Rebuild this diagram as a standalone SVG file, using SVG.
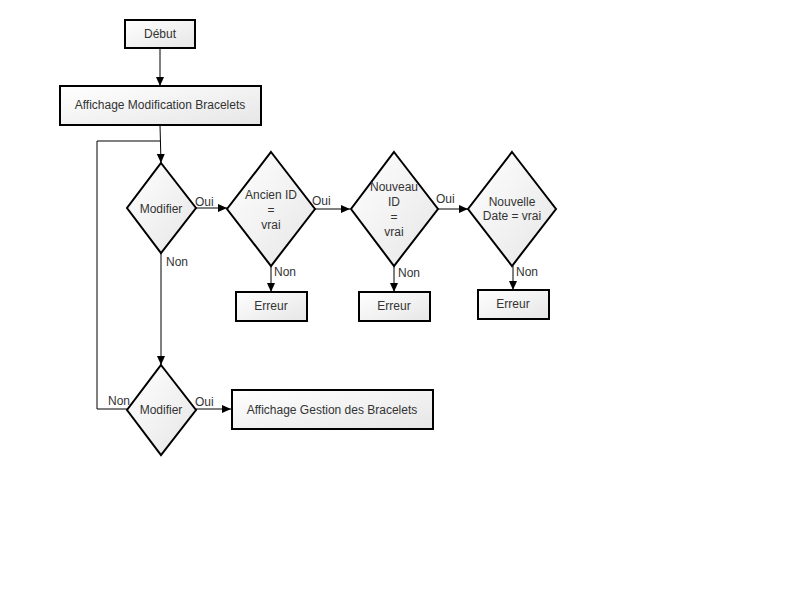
<svg xmlns="http://www.w3.org/2000/svg" width="800" height="600" viewBox="0 0 800 600">
<defs>
<linearGradient id="g" x1="0" y1="0" x2="1" y2="1">
<stop offset="0" stop-color="#ffffff"/>
<stop offset="1" stop-color="#e6e6e6"/>
</linearGradient>
<marker id="arr" markerWidth="10" markerHeight="10" refX="9" refY="4" orient="auto" markerUnits="userSpaceOnUse">
<path d="M0,0 L9,4 L0,8 Z" fill="#000"/>
</marker>
<style>
.n{fill:url(#g);stroke:#000;stroke-width:2}
.t{font-family:"Liberation Sans",Arial,sans-serif;font-size:12px;fill:#333;text-anchor:middle;dominant-baseline:central}
.l{font-family:"Liberation Sans",Arial,sans-serif;font-size:12px;fill:#333}
.c{fill:none;stroke:#000;stroke-width:1}
.a{fill:none;stroke:#000;stroke-width:1;marker-end:url(#arr)}
</style>
</defs>
<rect width="800" height="600" fill="#fff"/>
<g id="connectors">
<line class="a" x1="160" y1="49" x2="160" y2="86"/>
<polyline class="a" points="160,125 161,163"/>
<polyline class="c" points="127,409 97,409 97,141 160,141"/>
<line class="a" x1="196" y1="208" x2="227" y2="208"/>
<line class="a" x1="315" y1="209" x2="350" y2="209"/>
<line class="a" x1="438" y1="209" x2="468" y2="209"/>
<line class="a" x1="271" y1="266" x2="271" y2="292"/>
<line class="a" x1="394" y1="266" x2="394" y2="292"/>
<line class="a" x1="513" y1="266" x2="513" y2="290"/>
<line class="a" x1="161" y1="253" x2="161" y2="365"/>
<line class="a" x1="196" y1="409" x2="231" y2="409"/>
<text class="l" x="195" y="206">Oui</text>
<text class="l" x="166" y="266">Non</text>
<text class="l" x="312" y="205">Oui</text>
<text class="l" x="274" y="276">Non</text>
<text class="l" x="436" y="203">Oui</text>
<text class="l" x="398" y="277">Non</text>
<text class="l" x="516" y="276">Non</text>
<text class="l" x="108" y="405">Non</text>
<text class="l" x="195" y="406">Oui</text>
</g>
<g id="debut"><rect class="n" x="125" y="20" width="70" height="28"/><text class="t" x="160" y="34">Début</text></g>
<g id="affichage-modif"><rect class="n" x="60" y="86" width="201" height="39"/><text class="t" x="160" y="105">Affichage Modification Bracelets</text></g>
<g id="modifier1"><polygon class="n" points="161,163 196,208 161,253 127,208"/><text class="t" x="161" y="209">Modifier</text></g>
<g id="ancien-id"><polygon class="n" points="271,152 315,209 271,266 227,209"/><text class="t" x="271" y="195">Ancien ID</text><text class="t" x="271" y="210">=</text><text class="t" x="271" y="225">vrai</text></g>
<g id="nouveau-id"><polygon class="n" points="394,152 438,209 394,266 351,209"/><text class="t" x="394" y="187">Nouveau</text><text class="t" x="394" y="202">ID</text><text class="t" x="394" y="217">=</text><text class="t" x="394" y="232">vrai</text></g>
<g id="nouvelle-date"><polygon class="n" points="512,152 556,209 512,266 468,209"/><text class="t" x="512" y="202">Nouvelle</text><text class="t" x="512" y="216">Date = vrai</text></g>
<g id="erreur1"><rect class="n" x="236" y="292" width="71" height="29"/><text class="t" x="271" y="306">Erreur</text></g>
<g id="erreur2"><rect class="n" x="359" y="292" width="71" height="29"/><text class="t" x="394" y="306">Erreur</text></g>
<g id="erreur3"><rect class="n" x="478" y="290" width="71" height="29"/><text class="t" x="513" y="304">Erreur</text></g>
<g id="modifier2"><polygon class="n" points="161,365 196,410 161,455 127,410"/><text class="t" x="161" y="410">Modifier</text></g>
<g id="affichage-gestion"><rect class="n" x="232" y="390" width="201" height="39"/><text class="t" x="332" y="410">Affichage Gestion des Bracelets</text></g>
</svg>
